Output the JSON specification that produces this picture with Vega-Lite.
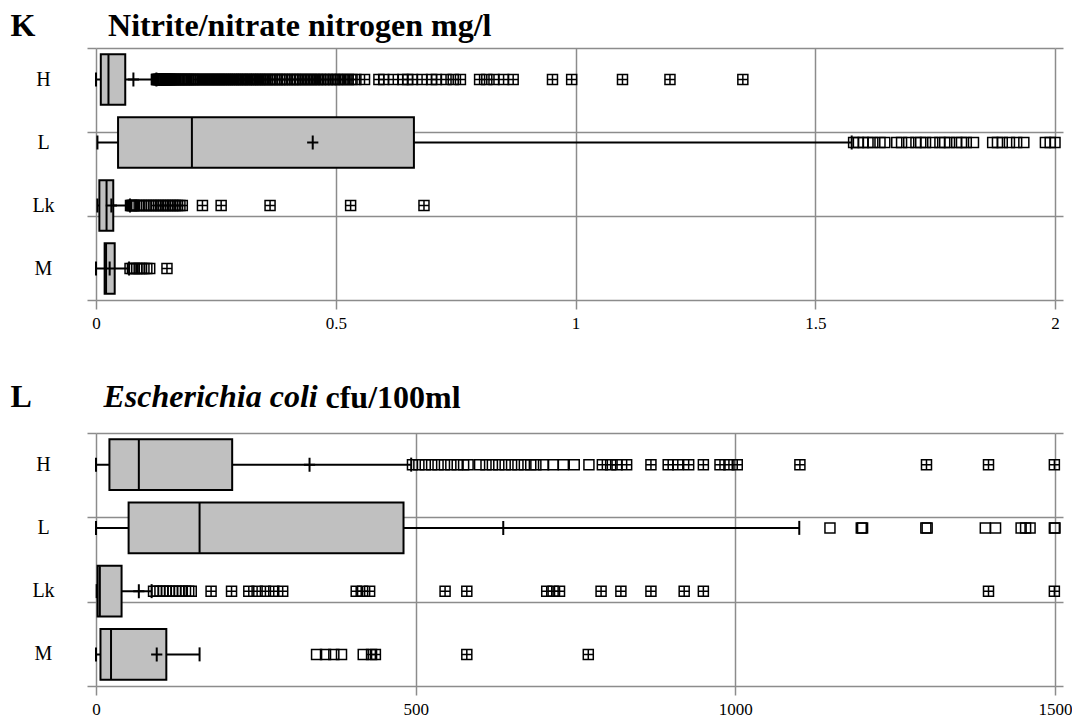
{
"$schema": "https://vega.github.io/schema/vega-lite/v6.json",
"background": "white",
"padding": {"left": 10, "top": 9, "right": 0, "bottom": 0},
"spacing": 49,
"config": {"view": {"stroke": null}, "font": "Liberation Serif", "axis": {"labelFont": "Liberation Serif", "titleFont": "Liberation Serif"}},
"datasets": {
"kbox": [
{"site":"H","lo":0,"q1":0.01,"med":0.026,"q3":0.061,"hi":0.126,"mean":0.078},
{"site":"L","lo":0.003,"q1":0.046,"med":0.2,"q3":0.663,"hi":1.576,"mean":0.452},
{"site":"Lk","lo":0.003,"q1":0.007,"med":0.022,"q3":0.036,"hi":0.071,"mean":0.032},
{"site":"M","lo":0,"q1":0.018,"med":0.021,"q3":0.039,"hi":0.069,"mean":0.0285}
],
"kout": [
{"site":"H","v":0.126,"ext":false},{"site":"H","v":0.127,"ext":false},{"site":"H","v":0.128,"ext":false},{"site":"H","v":0.13,"ext":false},{"site":"H","v":0.131,"ext":false},{"site":"H","v":0.133,"ext":false},{"site":"H","v":0.134,"ext":false},{"site":"H","v":0.135,"ext":false},{"site":"H","v":0.136,"ext":false},{"site":"H","v":0.138,"ext":false},{"site":"H","v":0.139,"ext":false},{"site":"H","v":0.141,"ext":false},{"site":"H","v":0.142,"ext":false},{"site":"H","v":0.144,"ext":false},{"site":"H","v":0.145,"ext":false},{"site":"H","v":0.147,"ext":false},{"site":"H","v":0.148,"ext":false},{"site":"H","v":0.15,"ext":false},{"site":"H","v":0.152,"ext":false},{"site":"H","v":0.153,"ext":false},{"site":"H","v":0.155,"ext":false},{"site":"H","v":0.157,"ext":false},{"site":"H","v":0.158,"ext":false},{"site":"H","v":0.161,"ext":false},{"site":"H","v":0.164,"ext":false},{"site":"H","v":0.166,"ext":false},{"site":"H","v":0.169,"ext":false},{"site":"H","v":0.172,"ext":false},{"site":"H","v":0.175,"ext":false},{"site":"H","v":0.178,"ext":false},{"site":"H","v":0.181,"ext":false},{"site":"H","v":0.184,"ext":false},{"site":"H","v":0.187,"ext":false},{"site":"H","v":0.19,"ext":false},{"site":"H","v":0.193,"ext":false},{"site":"H","v":0.196,"ext":false},{"site":"H","v":0.2,"ext":false},{"site":"H","v":0.203,"ext":false},{"site":"H","v":0.206,"ext":false},{"site":"H","v":0.21,"ext":false},
{"site":"H","v":0.214,"ext":true},{"site":"H","v":0.218,"ext":true},{"site":"H","v":0.222,"ext":true},{"site":"H","v":0.226,"ext":true},{"site":"H","v":0.23,"ext":true},{"site":"H","v":0.234,"ext":true},{"site":"H","v":0.238,"ext":true},{"site":"H","v":0.242,"ext":true},{"site":"H","v":0.246,"ext":true},{"site":"H","v":0.25,"ext":true},{"site":"H","v":0.254,"ext":true},{"site":"H","v":0.258,"ext":true},{"site":"H","v":0.262,"ext":true},{"site":"H","v":0.266,"ext":true},{"site":"H","v":0.27,"ext":true},{"site":"H","v":0.274,"ext":true},{"site":"H","v":0.278,"ext":true},{"site":"H","v":0.283,"ext":true},{"site":"H","v":0.287,"ext":true},{"site":"H","v":0.291,"ext":true},{"site":"H","v":0.295,"ext":true},{"site":"H","v":0.3,"ext":true},{"site":"H","v":0.304,"ext":true},{"site":"H","v":0.308,"ext":true},{"site":"H","v":0.313,"ext":true},{"site":"H","v":0.317,"ext":true},{"site":"H","v":0.322,"ext":true},{"site":"H","v":0.326,"ext":true},{"site":"H","v":0.331,"ext":true},{"site":"H","v":0.335,"ext":true},{"site":"H","v":0.34,"ext":true},{"site":"H","v":0.344,"ext":true},{"site":"H","v":0.349,"ext":true},{"site":"H","v":0.354,"ext":true},{"site":"H","v":0.358,"ext":true},{"site":"H","v":0.363,"ext":true},{"site":"H","v":0.368,"ext":true},{"site":"H","v":0.373,"ext":true},{"site":"H","v":0.378,"ext":true},{"site":"H","v":0.383,"ext":true},{"site":"H","v":0.388,"ext":true},{"site":"H","v":0.393,"ext":true},{"site":"H","v":0.398,"ext":true},{"site":"H","v":0.404,"ext":true},{"site":"H","v":0.41,"ext":true},{"site":"H","v":0.415,"ext":true},{"site":"H","v":0.42,"ext":true},{"site":"H","v":0.426,"ext":true},{"site":"H","v":0.432,"ext":true},{"site":"H","v":0.438,"ext":true},{"site":"H","v":0.444,"ext":true},{"site":"H","v":0.45,"ext":true},{"site":"H","v":0.456,"ext":true},{"site":"H","v":0.462,"ext":true},{"site":"H","v":0.468,"ext":true},{"site":"H","v":0.475,"ext":true},{"site":"H","v":0.482,"ext":true},{"site":"H","v":0.489,"ext":true},{"site":"H","v":0.496,"ext":true},{"site":"H","v":0.503,"ext":true},{"site":"H","v":0.51,"ext":true},{"site":"H","v":0.518,"ext":true},{"site":"H","v":0.526,"ext":true},{"site":"H","v":0.534,"ext":true},{"site":"H","v":0.542,"ext":true},
{"site":"H","v":0.56,"ext":true},{"site":"H","v":0.59,"ext":true},{"site":"H","v":0.6,"ext":true},{"site":"H","v":0.62,"ext":true},{"site":"H","v":0.64,"ext":true},{"site":"H","v":0.65,"ext":true},{"site":"H","v":0.66,"ext":true},{"site":"H","v":0.68,"ext":true},{"site":"H","v":0.7,"ext":true},{"site":"H","v":0.71,"ext":true},{"site":"H","v":0.73,"ext":true},{"site":"H","v":0.745,"ext":true},{"site":"H","v":0.76,"ext":true},{"site":"H","v":0.8,"ext":true},{"site":"H","v":0.815,"ext":true},{"site":"H","v":0.83,"ext":true},{"site":"H","v":0.85,"ext":true},{"site":"H","v":0.87,"ext":true},{"site":"H","v":0.952,"ext":true},{"site":"H","v":0.992,"ext":true},{"site":"H","v":1.098,"ext":true},{"site":"H","v":1.197,"ext":true},{"site":"H","v":1.349,"ext":true},
{"site":"L","v":1.58,"ext":false},{"site":"L","v":1.59,"ext":false},{"site":"L","v":1.6,"ext":false},{"site":"L","v":1.61,"ext":false},{"site":"L","v":1.62,"ext":false},{"site":"L","v":1.635,"ext":false},{"site":"L","v":1.645,"ext":false},{"site":"L","v":1.67,"ext":false},{"site":"L","v":1.68,"ext":false},{"site":"L","v":1.695,"ext":false},{"site":"L","v":1.71,"ext":false},{"site":"L","v":1.72,"ext":false},{"site":"L","v":1.73,"ext":false},{"site":"L","v":1.745,"ext":false},{"site":"L","v":1.76,"ext":false},{"site":"L","v":1.77,"ext":false},{"site":"L","v":1.78,"ext":false},{"site":"L","v":1.795,"ext":false},{"site":"L","v":1.805,"ext":false},{"site":"L","v":1.815,"ext":false},{"site":"L","v":1.83,"ext":false},{"site":"L","v":1.87,"ext":false},{"site":"L","v":1.88,"ext":false},{"site":"L","v":1.89,"ext":false},{"site":"L","v":1.905,"ext":false},{"site":"L","v":1.92,"ext":false},{"site":"L","v":1.935,"ext":false},{"site":"L","v":1.98,"ext":false},{"site":"L","v":1.99,"ext":false},{"site":"L","v":2.0,"ext":false},
{"site":"Lk","v":0.072,"ext":false},{"site":"Lk","v":0.074,"ext":false},{"site":"Lk","v":0.076,"ext":false},{"site":"Lk","v":0.078,"ext":false},{"site":"Lk","v":0.08,"ext":false},{"site":"Lk","v":0.085,"ext":false},{"site":"Lk","v":0.09,"ext":false},{"site":"Lk","v":0.095,"ext":false},{"site":"Lk","v":0.1,"ext":false},{"site":"Lk","v":0.105,"ext":false},{"site":"Lk","v":0.11,"ext":false},{"site":"Lk","v":0.115,"ext":false},{"site":"Lk","v":0.12,"ext":false},{"site":"Lk","v":0.125,"ext":true},{"site":"Lk","v":0.13,"ext":true},{"site":"Lk","v":0.135,"ext":true},{"site":"Lk","v":0.14,"ext":true},{"site":"Lk","v":0.145,"ext":true},{"site":"Lk","v":0.15,"ext":true},{"site":"Lk","v":0.155,"ext":true},{"site":"Lk","v":0.16,"ext":true},{"site":"Lk","v":0.165,"ext":true},{"site":"Lk","v":0.17,"ext":true},{"site":"Lk","v":0.175,"ext":true},{"site":"Lk","v":0.18,"ext":true},{"site":"Lk","v":0.222,"ext":true},{"site":"Lk","v":0.261,"ext":true},{"site":"Lk","v":0.363,"ext":true},{"site":"Lk","v":0.531,"ext":true},{"site":"Lk","v":0.684,"ext":true},
{"site":"M","v":0.071,"ext":false},{"site":"M","v":0.076,"ext":false},{"site":"M","v":0.08,"ext":false},{"site":"M","v":0.085,"ext":false},{"site":"M","v":0.09,"ext":false},{"site":"M","v":0.095,"ext":false},{"site":"M","v":0.1,"ext":false},{"site":"M","v":0.106,"ext":false},{"site":"M","v":0.112,"ext":false},{"site":"M","v":0.148,"ext":true}
],
"ebox": [
{"site":"H","lo":0,"q1":21,"med":67,"q3":213,"hi":493,"mean":334},
{"site":"L","lo":0,"q1":51,"med":162,"q3":481,"hi":1100,"mean":637},
{"site":"Lk","lo":1,"q1":2.5,"med":6,"q3":40,"hi":87,"mean":67},
{"site":"M","lo":0,"q1":7,"med":23.5,"q3":110,"hi":162,"mean":95}
],
"eout": [
{"site":"H","v":495,"ext":false},{"site":"H","v":505,"ext":false},{"site":"H","v":515,"ext":false},{"site":"H","v":525,"ext":false},{"site":"H","v":535,"ext":false},{"site":"H","v":545,"ext":false},{"site":"H","v":555,"ext":false},{"site":"H","v":565,"ext":false},{"site":"H","v":575,"ext":false},{"site":"H","v":582,"ext":false},{"site":"H","v":600,"ext":false},{"site":"H","v":610,"ext":false},{"site":"H","v":620,"ext":false},{"site":"H","v":630,"ext":false},{"site":"H","v":640,"ext":false},{"site":"H","v":650,"ext":false},{"site":"H","v":660,"ext":false},{"site":"H","v":670,"ext":false},{"site":"H","v":680,"ext":false},{"site":"H","v":688,"ext":false},{"site":"H","v":700,"ext":false},{"site":"H","v":715,"ext":false},{"site":"H","v":731,"ext":false},{"site":"H","v":748,"ext":false},{"site":"H","v":771,"ext":false},
{"site":"H","v":792,"ext":true},{"site":"H","v":805,"ext":true},{"site":"H","v":815,"ext":true},{"site":"H","v":830,"ext":true},{"site":"H","v":868,"ext":true},{"site":"H","v":895,"ext":true},{"site":"H","v":910,"ext":true},{"site":"H","v":927,"ext":true},{"site":"H","v":950,"ext":true},{"site":"H","v":976,"ext":true},{"site":"H","v":990,"ext":true},{"site":"H","v":1003,"ext":true},{"site":"H","v":1101,"ext":true},{"site":"H","v":1299,"ext":true},{"site":"H","v":1396,"ext":true},{"site":"H","v":1499,"ext":true},
{"site":"L","v":1148,"ext":false},{"site":"L","v":1197,"ext":false},{"site":"L","v":1199,"ext":false},{"site":"L","v":1298,"ext":false},{"site":"L","v":1300,"ext":false},{"site":"L","v":1391,"ext":false},{"site":"L","v":1407,"ext":false},{"site":"L","v":1447,"ext":false},{"site":"L","v":1454,"ext":false},{"site":"L","v":1461,"ext":false},{"site":"L","v":1499,"ext":false},{"site":"L","v":1500,"ext":false},
{"site":"Lk","v":90,"ext":false},{"site":"Lk","v":95,"ext":false},{"site":"Lk","v":100,"ext":false},{"site":"Lk","v":105,"ext":false},{"site":"Lk","v":110,"ext":false},{"site":"Lk","v":115,"ext":false},{"site":"Lk","v":120,"ext":false},{"site":"Lk","v":125,"ext":false},{"site":"Lk","v":130,"ext":false},{"site":"Lk","v":135,"ext":false},{"site":"Lk","v":140,"ext":false},{"site":"Lk","v":145,"ext":false},{"site":"Lk","v":149,"ext":false},
{"site":"Lk","v":180,"ext":true},{"site":"Lk","v":212,"ext":true},{"site":"Lk","v":239,"ext":true},{"site":"Lk","v":252,"ext":true},{"site":"Lk","v":265,"ext":true},{"site":"Lk","v":278,"ext":true},{"site":"Lk","v":292,"ext":true},{"site":"Lk","v":407,"ext":true},{"site":"Lk","v":417,"ext":true},{"site":"Lk","v":428,"ext":true},{"site":"Lk","v":546,"ext":true},{"site":"Lk","v":580,"ext":true},{"site":"Lk","v":705,"ext":true},{"site":"Lk","v":715,"ext":true},{"site":"Lk","v":725,"ext":true},{"site":"Lk","v":790,"ext":true},{"site":"Lk","v":821,"ext":true},{"site":"Lk","v":868,"ext":true},{"site":"Lk","v":920,"ext":true},{"site":"Lk","v":950,"ext":true},{"site":"Lk","v":1396,"ext":true},{"site":"Lk","v":1499,"ext":true},
{"site":"M","v":345,"ext":false},{"site":"M","v":359,"ext":false},{"site":"M","v":372,"ext":false},{"site":"M","v":384,"ext":false},{"site":"M","v":418,"ext":false},{"site":"M","v":431,"ext":true},{"site":"M","v":437,"ext":true},{"site":"M","v":580,"ext":true},{"site":"M","v":770,"ext":true}
]
},
"vconcat": [
{
"width": 959, "height": 252,
"resolve": {"scale": {"y": "independent"}, "axis": {"y": "independent"}},
"layer": [
{
"data": {"name": "kbox"},
"mark": {"type": "rule", "opacity": 0},
"encoding": {
"y": {"datum": 0, "type": "quantitative", "scale": {"domain": [0, 3], "nice": false, "zero": false},
"axis": {"orient": "left", "values": [0, 1, 2, 3], "grid": true, "gridColor": "#8c8c8c", "gridWidth": 1.5, "ticks": true, "tickSize": 9, "tickColor": "#8c8c8c", "tickWidth": 1.5, "labels": false, "domain": false,
"title": "Nitrite/nitrate nitrogen mg/l", "titleX": 11.6, "titleY": -12.5, "titleAngle": 0, "titleAlign": "left", "titleBaseline": "alphabetic", "titleFont": "Liberation Serif", "titleFontSize": 32, "titleFontWeight": "bold", "titleColor": "black"}}
}
},
{
"data": {"name": "kbox"},
"mark": {"type": "rule", "opacity": 0},
"encoding": {
"y": {"datum": 0, "type": "quantitative", "scale": {"domain": [0, 3], "nice": false, "zero": false},
"axis": {"orient": "right", "values": [0, 1, 2, 3], "grid": false, "ticks": true, "tickSize": 8, "tickColor": "#8c8c8c", "tickWidth": 1.5, "labels": false, "domain": false, "title": null}}
}
},
{
"encoding": {
"y": {"field": "site", "type": "nominal", "sort": ["H", "L", "Lk", "M"], "scale": {"domain": ["H", "L", "Lk", "M"], "paddingInner": 0, "paddingOuter": 0},
"axis": {"orient": "left", "title": "K", "titleX": -86, "titleY": -12.5, "titleAngle": 0, "titleAlign": "left", "titleBaseline": "alphabetic", "titleFont": "Liberation Serif", "titleFontSize": 32, "titleFontWeight": "bold", "titleColor": "black",
"labelFont": "Liberation Serif", "labelFontSize": 20, "labelColor": "black", "labelAlign": "center", "labelBaseline": "middle", "labelPadding": 53, "ticks": false, "tickSize": 0, "domain": false, "grid": false}}
},
"layer": [
{"data": {"name": "kbox"}, "mark": {"type": "rule", "color": "black", "strokeWidth": 2},
"encoding": {"x": {"field": "lo", "type": "quantitative", "scale": {"domain": [0, 2], "nice": false, "zero": true},
"axis": {"values": [0, 0.5, 1, 1.5, 2], "format": "~g", "grid": true, "gridColor": "#8c8c8c", "gridWidth": 1.5, "ticks": true, "tickSize": 9, "tickColor": "#8c8c8c", "tickWidth": 1.5, "domain": false, "labelFont": "Liberation Serif", "labelFontSize": 17, "labelColor": "black", "labelPadding": 6, "labelFlush": false, "labelOverlap": false, "title": null}},
"x2": {"field": "hi"}}},
{"data": {"name": "kbox"}, "mark": {"type": "bar", "fill": "#c0c0c0", "stroke": "black", "strokeWidth": 2, "height": {"band": 0.8}},
"encoding": {"x": {"field": "q1", "type": "quantitative"}, "x2": {"field": "q3"}}},
{"data": {"name": "kbox"}, "mark": {"type": "tick", "color": "black", "opacity": 1, "thickness": 2, "size": 50},
"encoding": {"x": {"field": "med", "type": "quantitative"}}},
{"data": {"name": "kbox"}, "mark": {"type": "tick", "color": "black", "opacity": 1, "thickness": 2, "size": 14},
"encoding": {"x": {"field": "lo", "type": "quantitative"}}},
{"data": {"name": "kbox"}, "mark": {"type": "tick", "color": "black", "opacity": 1, "thickness": 2, "size": 14},
"encoding": {"x": {"field": "hi", "type": "quantitative"}}},
{"data": {"name": "kbox"}, "mark": {"type": "point", "shape": "M-0.8,0H0.8M0,-1V1", "size": 196, "filled": false, "stroke": "black", "strokeWidth": 2, "opacity": 1},
"encoding": {"x": {"field": "mean", "type": "quantitative"}}},
{"data": {"name": "kout"}, "mark": {"type": "point", "shape": "square", "size": 100, "filled": false, "stroke": "black", "strokeWidth": 1.5, "opacity": 1},
"encoding": {"x": {"field": "v", "type": "quantitative"}}},
{"data": {"name": "kout"}, "transform": [{"filter": "datum.ext"}], "mark": {"type": "point", "shape": "M-1,0H1M0,-1V1", "size": 100, "filled": false, "stroke": "black", "strokeWidth": 1.5, "opacity": 1},
"encoding": {"x": {"field": "v", "type": "quantitative"}}}
]
}
]
},
{
"width": 959, "height": 253,
"resolve": {"scale": {"y": "independent"}, "axis": {"y": "independent"}},
"layer": [
{
"data": {"name": "ebox"},
"mark": {"type": "rule", "opacity": 0},
"encoding": {
"y": {"datum": 0, "type": "quantitative", "scale": {"domain": [0, 3], "nice": false, "zero": false},
"axis": {"orient": "left", "values": [0, 1, 2, 3], "grid": true, "gridColor": "#8c8c8c", "gridWidth": 1.5, "ticks": true, "tickSize": 9, "tickColor": "#8c8c8c", "tickWidth": 1.5, "labels": false, "domain": false,
"title": "Escherichia coli", "titleX": 7, "titleY": -27, "titleAngle": 0, "titleAlign": "left", "titleBaseline": "alphabetic", "titleFont": "Liberation Serif", "titleFontSize": 32, "titleFontWeight": "bold", "titleFontStyle": "italic", "titleColor": "black"}}
}
},
{
"data": {"name": "ebox"},
"mark": {"type": "rule", "opacity": 0},
"encoding": {
"y": {"datum": 0, "type": "quantitative", "scale": {"domain": [0, 3], "nice": false, "zero": false},
"axis": {"orient": "right", "values": [0, 1, 2, 3], "grid": false, "ticks": true, "tickSize": 8, "tickColor": "#8c8c8c", "tickWidth": 1.5, "labels": false, "domain": false, "title": null}}
}
},
{
"encoding": {
"y": {"field": "site", "type": "nominal", "sort": ["H", "L", "Lk", "M"], "scale": {"domain": ["H", "L", "Lk", "M"], "paddingInner": 0, "paddingOuter": 0},
"axis": {"orient": "left", "title": "L", "titleX": -86, "titleY": -27, "titleAngle": 0, "titleAlign": "left", "titleBaseline": "alphabetic", "titleFont": "Liberation Serif", "titleFontSize": 32, "titleFontWeight": "bold", "titleColor": "black",
"labelFont": "Liberation Serif", "labelFontSize": 20, "labelColor": "black", "labelAlign": "center", "labelBaseline": "middle", "labelPadding": 53, "ticks": false, "tickSize": 0, "domain": false, "grid": false}}
},
"layer": [
{"data": {"name": "ebox"}, "mark": {"type": "rule", "color": "black", "strokeWidth": 2},
"encoding": {"x": {"field": "lo", "type": "quantitative", "scale": {"domain": [0, 1500], "nice": false, "zero": true},
"axis": {"values": [0, 500, 1000, 1500], "format": "d", "grid": true, "gridColor": "#8c8c8c", "gridWidth": 1.5, "ticks": true, "tickSize": 9, "tickColor": "#8c8c8c", "tickWidth": 1.5, "domain": false, "labelFont": "Liberation Serif", "labelFontSize": 17, "labelColor": "black", "labelPadding": 6, "labelFlush": false, "labelOverlap": false,
"title": "cfu/100ml", "titleX": 229, "titleY": -279, "titleAngle": 0, "titleAlign": "left", "titleBaseline": "alphabetic", "titleFont": "Liberation Serif", "titleFontSize": 32, "titleFontWeight": "bold", "titleColor": "black"}},
"x2": {"field": "hi"}}},
{"data": {"name": "ebox"}, "mark": {"type": "bar", "fill": "#c0c0c0", "stroke": "black", "strokeWidth": 2, "height": {"band": 0.8}},
"encoding": {"x": {"field": "q1", "type": "quantitative"}, "x2": {"field": "q3"}}},
{"data": {"name": "ebox"}, "mark": {"type": "tick", "color": "black", "opacity": 1, "thickness": 2, "size": 50},
"encoding": {"x": {"field": "med", "type": "quantitative"}}},
{"data": {"name": "ebox"}, "mark": {"type": "tick", "color": "black", "opacity": 1, "thickness": 2, "size": 14},
"encoding": {"x": {"field": "lo", "type": "quantitative"}}},
{"data": {"name": "ebox"}, "mark": {"type": "tick", "color": "black", "opacity": 1, "thickness": 2, "size": 14},
"encoding": {"x": {"field": "hi", "type": "quantitative"}}},
{"data": {"name": "ebox"}, "mark": {"type": "point", "shape": "M-0.8,0H0.8M0,-1V1", "size": 196, "filled": false, "stroke": "black", "strokeWidth": 2, "opacity": 1},
"encoding": {"x": {"field": "mean", "type": "quantitative"}}},
{"data": {"name": "eout"}, "mark": {"type": "point", "shape": "square", "size": 100, "filled": false, "stroke": "black", "strokeWidth": 1.5, "opacity": 1},
"encoding": {"x": {"field": "v", "type": "quantitative"}}},
{"data": {"name": "eout"}, "transform": [{"filter": "datum.ext"}], "mark": {"type": "point", "shape": "M-1,0H1M0,-1V1", "size": 100, "filled": false, "stroke": "black", "strokeWidth": 1.5, "opacity": 1},
"encoding": {"x": {"field": "v", "type": "quantitative"}}}
]
}
]
}
]
}
